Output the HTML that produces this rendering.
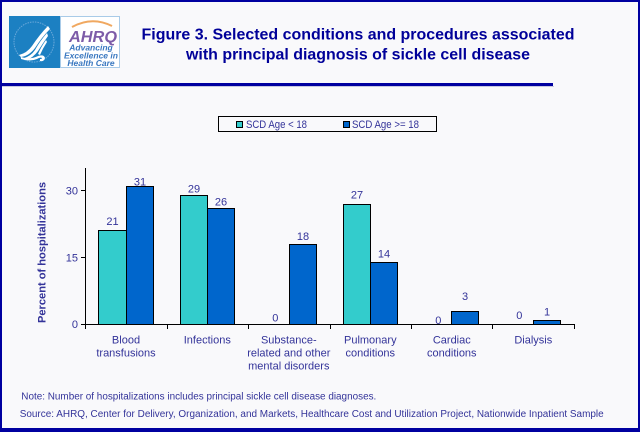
<!DOCTYPE html>
<html><head><meta charset="utf-8"><style>
html,body{margin:0;padding:0;background:#f9f9fb;}
svg{display:block;}
text{font-family:"Liberation Sans",Arial,sans-serif;}
</style></head><body>
<svg width="640" height="432" viewBox="0 0 640 432" xmlns="http://www.w3.org/2000/svg">
<rect x="0" y="0" width="640" height="432" fill="#f9f9fb"/>
<!-- borders -->
<rect x="0" y="0" width="640" height="2" fill="#0000a0"/>
<rect x="0" y="0" width="2" height="432" fill="#0000a0"/>
<rect x="638" y="0" width="2" height="432" fill="#0000a0"/>
<rect x="0" y="428" width="640" height="4" fill="#0000a0"/>
<rect x="0" y="83" width="553" height="3" fill="#0000a0"/>
<rect x="2" y="86" width="552" height="1" fill="#c8c8e0"/>

<!-- logo -->
<rect x="9" y="16" width="51" height="52" fill="#1c80c2"/>
<circle cx="34" cy="42" r="20" fill="none" stroke="#6aa8da" stroke-width="1" stroke-dasharray="1.5 1"/>
<g fill="#ffffff">
<path d="M48 26 Q40 34 32 46 Q27 53 19 55 L21 57 Q29 56 35 48 Q42 37 50 29 Z"/>
<path d="M47 33 Q40 41 35 50 Q31 56 24 58 L26 60 Q33 58 38 51 Q43 43 48 36 Z"/>
<path d="M46 40 Q41 47 38 54 L40 55 Q43 48 47 42 Z"/>
<path d="M21 57 Q30 60 38 56 Q44 54 45 58 Q44 62 40 61 L40 59 Q42 59 42 58 Q40 57 37 59 Q30 62 21 59 Z"/>
</g>
<rect x="60.5" y="16.5" width="59" height="51" fill="#ffffff" stroke="#a9cbe8" stroke-width="1"/>
<path d="M72 27 Q92 16 112 26" fill="none" stroke="#f0a860" stroke-width="2"/>
<text x="93" y="42" text-anchor="middle" font-size="16" font-weight="bold" font-style="italic" fill="#7d5ca8" textLength="48" lengthAdjust="spacingAndGlyphs">AHRQ</text>
<text x="91" y="50.5" text-anchor="middle" font-size="8.5" font-weight="bold" font-style="italic" fill="#3a78c0">Advancing</text>
<text x="91" y="58.5" text-anchor="middle" font-size="8.5" font-weight="bold" font-style="italic" fill="#3a78c0" textLength="54" lengthAdjust="spacingAndGlyphs">Excellence in</text>
<text x="91" y="66" text-anchor="middle" font-size="8.5" font-weight="bold" font-style="italic" fill="#3a78c0">Health Care</text>

<!-- title -->
<text x="358" y="39.5" text-anchor="middle" font-size="16" font-weight="bold" fill="#000099" textLength="433" lengthAdjust="spacingAndGlyphs">Figure 3. Selected conditions and procedures associated</text>
<text x="358" y="59.5" text-anchor="middle" font-size="16" font-weight="bold" fill="#000099" textLength="344" lengthAdjust="spacingAndGlyphs">with principal diagnosis of sickle cell disease</text>

<!-- legend -->
<rect x="218.5" y="116.5" width="218" height="15" fill="#f9f9fb" stroke="#000" stroke-width="1"/>
<rect x="236.5" y="121.5" width="6" height="6" fill="#33cccc" stroke="#000" stroke-width="1"/>
<text x="246" y="128" font-size="11" fill="#333399" textLength="61" lengthAdjust="spacingAndGlyphs">SCD Age &lt; 18</text>
<rect x="343.5" y="121.5" width="6" height="6" fill="#0066cc" stroke="#000" stroke-width="1"/>
<text x="352" y="128" font-size="11" fill="#333399" textLength="67" lengthAdjust="spacingAndGlyphs">SCD Age &gt;= 18</text>

<!-- y axis title -->
<text transform="translate(45.5,252.5) rotate(-90)" text-anchor="middle" font-size="11" font-weight="bold" fill="#333399" textLength="141" lengthAdjust="spacingAndGlyphs">Percent of hospitalizations</text>

<!-- bars -->
<g stroke="#000" stroke-width="1">
<rect x="98.5" y="230.5" width="28" height="94" fill="#33cccc"/>
<rect x="126.5" y="186.5" width="27" height="138" fill="#0066cc"/>
<rect x="180.5" y="195.5" width="27" height="129" fill="#33cccc"/>
<rect x="207.5" y="208.5" width="27" height="116" fill="#0066cc"/>
<rect x="289.5" y="244.5" width="27" height="80" fill="#0066cc"/>
<rect x="343.5" y="204.5" width="27" height="120" fill="#33cccc"/>
<rect x="370.5" y="262.5" width="27" height="62" fill="#0066cc"/>
<rect x="451.5" y="311.5" width="27" height="13" fill="#0066cc"/>
<rect x="533.5" y="320.5" width="27" height="4" fill="#0066cc"/>
</g>

<!-- axes -->
<g stroke="#000" stroke-width="1" fill="none">
<line x1="85.5" y1="168" x2="85.5" y2="325"/>
<line x1="85" y1="324.5" x2="575" y2="324.5"/>
<line x1="81" y1="190.5" x2="85.5" y2="190.5"/>
<line x1="81" y1="257.5" x2="85.5" y2="257.5"/>
<line x1="81" y1="324.5" x2="85.5" y2="324.5"/>
<line x1="85.5" y1="324.5" x2="85.5" y2="329"/>
<line x1="167.5" y1="324.5" x2="167.5" y2="329"/>
<line x1="248.5" y1="324.5" x2="248.5" y2="329"/>
<line x1="330.5" y1="324.5" x2="330.5" y2="329"/>
<line x1="411.5" y1="324.5" x2="411.5" y2="329"/>
<line x1="492.5" y1="324.5" x2="492.5" y2="329"/>
<line x1="574.5" y1="324.5" x2="574.5" y2="329"/>
</g>

<!-- y tick labels -->
<g font-size="11" fill="#333399" text-anchor="end">
<text x="78" y="194.5">30</text>
<text x="78" y="261.5">15</text>
<text x="78" y="328">0</text>
</g>

<!-- value labels -->
<g font-size="11" fill="#333399" text-anchor="middle">
<text x="112.5" y="225">21</text>
<text x="140" y="185.5">31</text>
<text x="194" y="192.5">29</text>
<text x="221" y="205.5">26</text>
<text x="275.3" y="321.5">0</text>
<text x="303" y="240">18</text>
<text x="357" y="198.5">27</text>
<text x="384" y="257.7">14</text>
<text x="438.3" y="324">0</text>
<text x="465" y="300">3</text>
<text x="519.3" y="319">0</text>
<text x="547" y="315.7">1</text>
</g>

<!-- category labels -->
<g font-size="11" fill="#333399" text-anchor="middle">
<text x="126" y="343.7">Blood</text>
<text x="126" y="356.7">transfusions</text>
<text x="207.3" y="343.7">Infections</text>
<text x="288.8" y="343.7">Substance-</text>
<text x="288.8" y="356.7">related and other</text>
<text x="288.8" y="369.7">mental disorders</text>
<text x="370.3" y="343.7">Pulmonary</text>
<text x="370.3" y="356.7">conditions</text>
<text x="451.8" y="343.7">Cardiac</text>
<text x="451.8" y="356.7">conditions</text>
<text x="533.3" y="343.7">Dialysis</text>
</g>

<!-- notes -->
<text x="21.3" y="399.5" font-size="10" fill="#333399" textLength="355" lengthAdjust="spacingAndGlyphs">Note: Number of hospitalizations includes principal sickle cell disease diagnoses.</text>
<text x="19.7" y="417" font-size="10" fill="#333399" textLength="584" lengthAdjust="spacingAndGlyphs">Source: AHRQ, Center for Delivery, Organization, and Markets, Healthcare Cost and Utilization Project, Nationwide Inpatient Sample</text>
</svg>
</body></html>
